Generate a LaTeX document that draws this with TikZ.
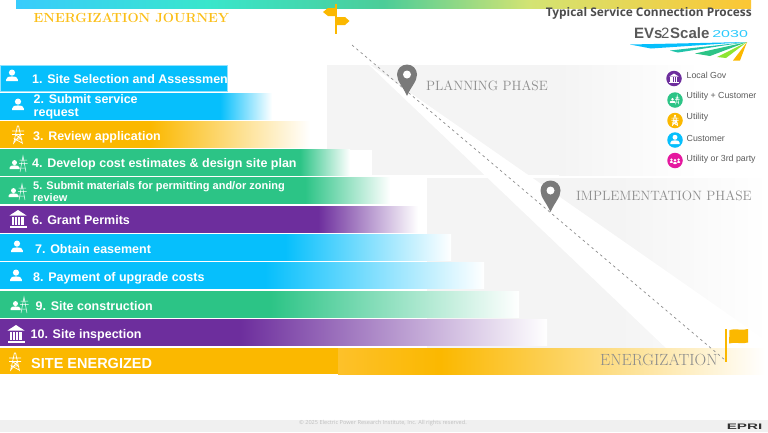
\documentclass[tikz,border=0pt]{standalone}
\usepackage{fontspec}
\setsansfont{Liberation Sans}
\newfontfamily\titlefont{Open Sans}
\definecolor{evcyan}{HTML}{06BFFC}
\definecolor{evorange}{HTML}{FBB800}
\definecolor{evgreen}{HTML}{2CC486}
\definecolor{evpurple}{HTML}{6D2E9D}
\definecolor{evmagenta}{HTML}{E5189F}
\definecolor{evgray}{HTML}{F4F4F4}
\definecolor{evlight}{HTML}{FDC12A}
\definecolor{phasetext}{HTML}{8C8C8C}
\definecolor{legendtext}{HTML}{5A5A5A}
\pgfdeclarehorizontalshading{topband}{100bp}{color(0bp)=(evcyan!80!white); color(25bp)=(evcyan!80!white);
    color(38bp)=(cyan!50!evgreen!85!white); color(50bp)=(evgreen!85!white); color(60bp)=(green!30!evorange!55!white); color(75bp)=(evorange!80!white); color(100bp)=(evorange!80!white)}
\pgfdeclarehorizontalshading{energyshade}{100bp}{color(0bp)=(evlight); color(25bp)=(evlight);
    color(37bp)=(evorange); color(75bp)=(white); color(100bp)=(white)}
\tikzset{
    barlabel/.style={anchor=west, inner sep=0pt, text=white, align=left, font=\sffamily\bfseries\fontsize{12.5}{13.5}\selectfont},
    phaselabel/.style={anchor=west, inner sep=0pt, text=phasetext, font=\fontsize{13.5}{15}\selectfont},
    legendlabel/.style={anchor=west, inner sep=0pt, text=legendtext, font=\sffamily\fontsize{8.8}{10}\selectfont},
    legenddot/.style={circle, minimum size=15.5pt, inner sep=0pt},
    personicon/.pic={
        \fill (0,-3.4) circle (3.1);
        \fill (-5.8,5) -- (-5.8,3.4) .. controls (-5.8,0.8) and (-3,0.4) .. (0,0.4) .. controls (3,0.4) and (5.8,0.8) .. (5.8,3.4) -- (5.8,5) -- cycle;
    },
    towericon/.pic={
        \draw[line width=0.7] (-4.5,9) -- (-0.6,-9) -- (0.6,-9) -- (4.5,9) (-6,-4) -- (6,-4) (-6,-0.5) -- (6,-0.5)
            (-2.5,-0.5) -- (3.4,4) -- (-3.4,4) -- (4.2,8) (2.5,-0.5) -- (-4.2,8);
    },
    bankicon/.pic={
        \fill (-8.5,-3.5) -- (0,-9) -- (8.5,-3.5) -- cycle;
        \fill (-8.5,6.5) rectangle (8.5,8.8);
        \foreach \colx in {-6.5,-3.2,0.1,3.4} {
            \fill (\colx,-2.5) rectangle ++(2.2,8.2);
        }
    },
    groupicon/.pic={
        \fill (-4.5,-1.4) circle (2.5);
        \fill (-9.5,5) -- (-9.5,3.6) .. controls (-9.5,1.8) and (-7,1.4) .. (-4.5,1.4) .. controls (-2,1.4) and (0.5,1.8) .. (0.5,3.6) -- (0.5,5) -- cycle;
        \draw[line width=0.5] (1,8) -- (4,-8) -- (7,8) (0.5,-4) -- (8,-4) (0,-0.5) -- (8.5,-0.5) (1.6,4) -- (6.6,4);
    },
    crowdicon/.pic={
        \foreach \px in {-6,6} {
            \fill (\px,-1.5) circle (2.1);
            \fill[rounded corners=1] (\px-3,4) -- (\px-3,1.2) -- (\px+3,1.2) -- (\px+3,4) -- cycle;
        }
        \fill (0,-0.5) circle (2.3);
        \fill[rounded corners=1] (-3.4,6) -- (-3.4,2.6) -- (3.4,2.6) -- (3.4,6) -- cycle;
    },
}
\begin{document}
\begin{tikzpicture}[x=1pt, y=-1pt]
    \useasboundingbox (0,0) rectangle (768,432);

    % Draw footer and top band
    \fill[black!6] (0,420) rectangle (768,432);
    \shade[shading=topband] (16,0) rectangle (751,8.5);

    % Draw phase backgrounds
    \fill[evgray] (327,65) rectangle (560,175);
    \fill[left color=evgray, right color=white] (559,65) rectangle (700,175);
    \fill[evgray] (427,178) rectangle (620,348);
    \fill[left color=evgray, right color=white] (619,178) rectangle (768,348);
    \fill[white] (366,62) -- (668,350) -- (768,350) -- (768,342) -- cycle;

    % Draw bars: top / solid end / fade end / box end / colour
    \foreach \ytop/\xsolid/\xfade/\xend/\barcol in {
        93/220/272/272/evcyan, 121.5/150/310/310/evorange, 149.5/300/350/372/evgreen,
        177.5/305/390/427/evgreen, 206/318/418/427/evpurple, 234/285/451/451/evcyan,
        262.5/265/484/484/evcyan, 291.5/270/519/519/evgreen, 319.5/240/547/547/evpurple} {
        \pgfmathsetmacro{\stopx}{25+50*\xsolid/\xfade}
        \pgfdeclarehorizontalshading{barshade\ytop}{100bp}{color(0bp)=(\barcol); color(\stopx bp)=(\barcol); color(75bp)=(white); color(100bp)=(white)}
        \fill[white] (0,\ytop) rectangle (\xend,\ytop+26);
        \shade[shading=barshade\ytop] (0,\ytop) rectangle (\xfade,\ytop+26);
    }
    \fill[evcyan, draw=evcyan!45, line width=0.6] (0.7,65) rectangle (227,91);
    \fill[evorange] (0,348) rectangle (338,374);
    \shade[shading=energyshade] (338,348) rectangle (765,374);

    % Bar icons
    \pic[white] (iconA) at (12,76) {personicon};
    \pic[white] (iconB) at (18,105) {personicon};
    \pic[white] (iconC) at (18,135) {towericon};
    \pic[white] (iconD) at (19,164) {groupicon};
    \pic[white] (iconE) at (18,192) {groupicon};
    \pic[white] (iconF) at (18,219) {bankicon};
    \pic[white] (iconG) at (17,247) {personicon};
    \pic[white] (iconH) at (16,276) {personicon};
    \pic[white] (iconI) at (20,305) {groupicon};
    \pic[white] (iconJ) at (16,334) {bankicon};
    \pic[white] (iconK) at (15,362) {towericon};

    % Bar labels
    \node[barlabel] (stepA) at (32,79) {1. Site Selection and Assessmen};
    \node[barlabel] (stepB) at (33.5,107) {2. Submit service\\request};
    \node[barlabel] (stepC) at (33,137.5) {3. Review application};
    \node[barlabel] (stepD) at (32,164) {4. Develop cost estimates \& design site plan};
    \node[barlabel, font=\sffamily\bfseries\fontsize{11}{12}\selectfont] (stepE) at (33,192) {5. Submit materials for permitting and/or zoning\\review};
    \node[barlabel] (stepF) at (32,220) {6. Grant Permits};
    \node[barlabel] (stepG) at (35,249) {7. Obtain easement};
    \node[barlabel] (stepH) at (33,278) {8. Payment of upgrade costs};
    \node[barlabel] (stepI) at (35.5,306.5) {9. Site construction};
    \node[barlabel] (stepJ) at (30.5,335) {10. Site inspection};
    \node[barlabel, font=\sffamily\bfseries\fontsize{14.5}{16}\selectfont] (stepK) at (31,363) {SITE ENERGIZED};

    % Journey line
    \coordinate (linestart) at (352,45);
    \coordinate (lineend) at (725,360);
    \draw[phasetext, line width=0.7, dash pattern=on 2.5pt off 3.2pt] (linestart) -- (lineend);

    % Pins
    \foreach \px/\py/\pinname in {407/64.5/pinplan, 550.5/180.5/pinimpl} {
        \coordinate (\pinname) at (\px,\py+31.5);
        \fill[black!52] (\pinname) .. controls (\px-4,\py+22) and (\px-10,\py+17) .. (\px-10,\py+10)
            arc[start angle=180, end angle=360, radius=10] .. controls (\px+10,\py+17) and (\px+4,\py+22) .. (\pinname);
        \fill[white] (\px,\py+10) circle (4);
    }

    % Phase labels
    \node[phaselabel] (planlabel) at (426,86) {PLANNING PHASE};
    \node[phaselabel] (impllabel) at (576,196) {IMPLEMENTATION PHASE};
    \node[phaselabel, font=\fontsize{16.2}{18}\selectfont] (energylabel) at (600,360) {ENERGIZATION};

    % Signpost and flag
    \fill[evorange] (335.2,4) rectangle (337.4,34);
    \fill[evorange] (323,12) -- (328,8) -- (336,8) -- (336,16) -- (328,16) -- cycle;
    \fill[evorange] (336,17) -- (345,17) -- (349.5,21) -- (345,25) -- (336,25) -- cycle;
    \fill[evorange] (725,329) rectangle (727.3,362);
    \fill[evorange] (729.5,330) .. controls (735,328) and (742,331) .. (748,329) -- (748,342.5)
        .. controls (742,344.5) and (735,341.5) .. (729,343.5) -- cycle;

    % Header text
    \node[anchor=west, inner sep=0pt, text=evorange!90!white, font=\bfseries\fontsize{13.2}{15}\selectfont] (journey) at (33.5,17.5) {ENERGIZATION JOURNEY};
    \node[anchor=east, inner sep=0pt, text=black!70, font=\titlefont\bfseries\fontsize{11.9}{14}\selectfont] (process) at (752,13) {Typical Service Connection Process};

    % Logo
    \node[anchor=west, inner sep=0pt, text=black!65, font=\sffamily\bfseries\fontsize{15}{17}\selectfont] (logoA) at (634,33) {EVs};
    \node[anchor=west, inner sep=0pt, text=black!65, font=\sffamily\fontsize{15}{17}\selectfont] (logoB) at (661,33) {2};
    \node[anchor=west, inner sep=0pt, text=black!65, font=\sffamily\bfseries\fontsize{15}{17}\selectfont] (logoC) at (670,33) {Scale};
    \node[anchor=west, inner sep=0pt, text=evcyan!85, xscale=1.6, font=\sffamily\fontsize{10}{11}\selectfont] (logoD) at (712,34.5) {2030};
    \coordinate (raysource) at (747,42);
    \fill[evcyan] (raysource) -- (630,44.5) -- (651,48.5) -- cycle;
    \fill[evgreen!70!evcyan] (raysource) -- (670,50.5) -- (678,52.5) -- cycle;
    \fill[evgreen] (raysource) -- (695,53.5) -- (710,56) -- cycle;
    \fill[green!55!evorange!80!white] (raysource) -- (717,57) -- (726,58) -- cycle;
    \fill[evorange] (raysource) -- (733,60.5) -- (740,60.5) -- cycle;

    % Legend
    \node[legenddot, fill=evpurple] (dotgov) at (674,78.5) {};
    \node[legenddot, fill=evgreen] (dotboth) at (675,100) {};
    \node[legenddot, fill=evorange] (dotutil) at (675,120.5) {};
    \node[legenddot, fill=evcyan] (dotcust) at (675,140) {};
    \node[legenddot, fill=evmagenta] (dotthird) at (675,160.5) {};
    \pic[white, scale=0.55] at (dotgov) {bankicon};
    \pic[white, scale=0.55] at (dotboth) {groupicon};
    \pic[white, scale=0.6] at (dotutil) {towericon};
    \pic[white, scale=0.8] at (dotcust) {personicon};
    \pic[white, scale=0.6] at (dotthird) {crowdicon};
    \node[legendlabel] (textgov) at (686.5,75.5) {Local Gov};
    \node[legendlabel] (textboth) at (686.5,96) {Utility + Customer};
    \node[legendlabel] (textutil) at (686.5,117) {Utility};
    \node[legendlabel] (textcust) at (686.5,138) {Customer};
    \node[legendlabel] (textthird) at (686.5,159) {Utility or 3rd party};

    % Footer text
    \node[inner sep=0pt, text=black!25, font=\titlefont\fontsize{5.6}{6}\selectfont] (copyright) at (383,423.5) {\copyright{} 2025 Electric Power Research Institute, Inc. All rights reserved.};
    \node[inner sep=0pt, text=black!80, xscale=1.9, font=\sffamily\bfseries\fontsize{8}{9}\selectfont] (eprilogo) at (744.5,426.5) {EPRI};
\end{tikzpicture}
\end{document}
